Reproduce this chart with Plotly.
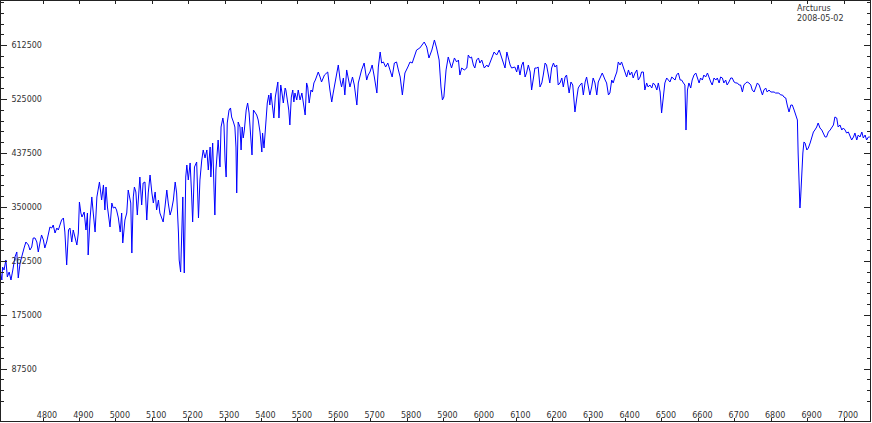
import plotly.graph_objects as go

# Wavelength (Angstrom) and relative flux
wavelength = [
4682,4687,4689,4693,4698,4702,4707,4712,4717,4723,4728,4732,4737,4741,4748,4753,4760,4764,4769,4773,
4778,4783,4787,4792,4796,4801,4805,4810,4815,4819,4824,4828,4833,4838,4842,4847,4851,4856,4860,4865,
4870,4874,4879,4883,4888,4893,4897,4900,4904,4907,4913,4918,4922,4924,4929,4934,4938,4943,4948,4955,
4961,4966,4970,4973,4977,4984,4989,4993,4998,5002,5007,5012,5016,5019,5025,5030,5034,5037,5041,5044,
5048,5051,5055,5059,5063,5066,5071,5075,5080,5085,5089,5094,5099,5103,5108,5112,5117,5121,5126,5130,
5135,5140,5144,5149,5153,5158,5163,5167,5172,5174,5178,5181,5184,5186,5188,5192,5195,5199,5204,5208,
5211,5216,5222,5227,5231,5236,5240,5245,5250,5254,5259,5261,5266,5270,5272,5275,5279,5281,5286,5289,
5294,5297,5300,5303,5306,5311,5315,5318,5323,5327,5330,5332,5336,5341,5344,5347,5350,5353,5358,5362,
5366,5370,5374,5378,5382,5387,5391,5396,5401,5403,5407,5412,5416,5420,5423,5426,5431,5434,5438,5442,
5445,5448,5453,5456,5460,5465,5467,5471,5475,5478,5482,5486,5489,5492,5497,5501,5506,5511,5515,5520,
5524,5527,5531,5536,5540,5544,5548,5552,5556,5561,5565,5573,5582,5588,5593,5597,5604,5611,5616,5620,
5625,5629,5634,5643,5650,5655,5662,5666,5675,5682,5689,5693,5698,5704,5710,5717,5721,5726,5730,5735,
5741,5747,5753,5759,5765,5771,5776,5781,5787,5794,5802,5808,5814,5820,5826,5835,5842,5847,5854,5860,
5868,5875,5881,5888,5893,5897,5901,5907,5913,5918,5922,5930,5936,5941,5945,5950,5957,5964,5968,5973,
5977,5982,5986,5991,5996,6000,6005,6012,6019,6023,6032,6039,6046,6053,6060,6064,6069,6074,6078,6083,
6087,6096,6101,6105,6110,6115,6119,6124,6128,6133,6138,6142,6147,6151,6156,6160,6165,6170,6174,6179,
6183,6188,6192,6197,6202,6206,6211,6215,6220,6225,6229,6234,6238,6245,6250,6255,6261,6266,6270,6275,
6280,6284,6289,6293,6298,6302,6307,6311,6316,6321,6325,6330,6336,6344,6348,6353,6357,6362,6366,6371,
6376,6380,6385,6389,6394,6398,6403,6408,6412,6417,6421,6426,6431,6435,6440,6444,6449,6453,6458,6462,
6467,6472,6476,6481,6486,6490,6495,6499,6504,6508,6513,6517,6522,6527,6531,6536,6540,6545,6550,6554,
6559,6563,6566,6570,6574,6579,6583,6588,6593,6597,6602,6606,6611,6615,6620,6625,6629,6634,6638,6643,
6648,6652,6657,6661,6666,6670,6675,6679,6684,6689,6693,6698,6703,6707,6712,6716,6721,6725,6730,6734,
6739,6744,6748,6753,6757,6762,6767,6771,6776,6780,6785,6789,6794,6799,6803,6808,6812,6817,6821,6826,
6831,6835,6840,6844,6849,6854,6858,6863,6867,6872,6874,6876,6879,6881,6884,6887,6890,6893,6898,6902,
6907,6911,6916,6920,6925,6929,6934,6939,6943,6948,6952,6957,6962,6966,6971,6975,6980,6984,6989,6994,
6998,7003,7007,7012,7016,7021,7026,7030,7035,7039,7044,7049,7053,7058,7062,7067,7071,
]
flux = [
248200,232000,253100,248200,264500,236900,245000,232000,248200,269400,277500,235300,259600,269400,284000,293700,288800,280700,285600,300200,
300200,293700,277500,293700,305100,297000,284000,293700,308300,318100,316400,321300,308300,316400,313200,324600,329400,332700,309900,256400,
313200,316400,293700,313200,300200,288800,308300,358600,340800,334300,342400,313200,340800,272600,329400,366800,340800,309900,366800,391100,
361900,386300,345700,383000,350500,318100,357000,348900,350500,345700,332700,309900,340800,292100,329400,340800,378100,366800,357000,275800,
366800,383000,374900,337500,386300,399200,353800,389500,391100,329400,373300,402500,373300,357000,374900,345700,361900,340800,332700,326200,
350500,378100,357000,337500,345700,361900,391100,373300,308300,264500,245000,292100,366800,292100,243400,399200,418700,394400,422000,373300,
326200,415500,423600,332700,394400,426800,443100,430100,443100,410600,447900,399200,454400,373300,337500,410600,447900,459300,415500,480400,
495000,483700,426800,399200,486900,508000,511300,496700,488500,480400,447900,373300,488500,480400,443100,480400,462600,475500,508000,519400,
503200,470700,435000,508000,504800,499900,491800,472300,439800,470700,446300,491800,519400,532400,516100,535600,512900,495000,529100,545400,
553500,495000,548600,537200,519400,543700,540500,524300,508000,483700,529100,540500,521000,535600,524300,540500,524300,535600,519400,499900,
551900,545400,519400,540500,537200,551900,556700,564800,569700,561600,553500,564800,569700,540500,521000,535600,556700,581100,556700,545400,
560000,532400,573000,545400,561600,548600,516100,551900,573000,584300,556700,564800,569700,581100,561600,535600,577800,602200,584300,586000,
577800,584300,573000,561600,584300,586000,573000,561600,532400,568100,577800,586000,584300,594100,605400,608700,613600,618400,610300,592500,
605400,621700,608700,589200,545400,524300,529100,573000,594100,584300,576200,592500,586000,589200,564800,576200,573000,576200,597300,592500,
594100,581100,576200,589200,592500,584300,589200,576200,581100,577800,592500,602200,597300,605400,592500,584300,576200,602200,592500,581100,
576200,577800,569700,581100,564800,581100,586000,561600,568100,581100,569700,540500,560000,576200,576200,577800,545400,551900,564800,584300,
581100,560000,551900,576200,584300,577800,581100,548600,551900,560000,545400,561600,564800,535600,553500,548600,504800,527500,543700,548600,
551900,532400,553500,561600,543700,532400,545400,560000,551900,532400,553500,561600,568100,556700,551900,532400,535600,556700,551900,561600,
569700,586000,581100,586000,577800,569700,561600,573000,564800,569700,560000,568100,573000,556700,561600,569700,569700,540500,551900,545400,
548600,543700,551900,548600,540500,551900,537200,503200,529100,551900,560000,556700,553500,561600,560000,556700,564800,568100,556700,556700,
551900,548600,475500,540500,551900,543700,556700,564800,568100,560000,551900,560000,556700,564800,561600,568100,560000,553500,548600,560000,
556700,560000,551900,561600,560000,551900,556700,548600,553500,560000,560000,553500,551900,551900,548600,548600,537200,548600,551900,553500,
551900,548600,540500,537200,543700,551900,548600,540500,532400,540500,543700,537200,540500,537200,537200,537200,535600,535600,535600,532400,
532400,529100,527500,516100,504800,516100,516100,508000,499900,491800,438200,394400,348900,366800,410600,438200,456100,454400,443100,446300,
454400,464200,472300,475500,480400,486900,478800,475500,470700,464200,464200,472300,475500,478800,483700,496700,495000,480400,483700,475500,
478800,475500,470700,472300,467400,459300,464200,470700,459300,467400,464200,472300,462600,467400,459300,464200,464200,
]

x_tick_vals = [4700,4800,4900,5000,5100,5200,5300,5400,5500,5600,5700,5800,5900,
               6000,6100,6200,6300,6400,6500,6600,6700,6800,6900,7000]
x_tick_text = ["","4800","4900","5000","5100","5200","5300","5400","5500","5600","5700","5800","5900",
               "6000","6100","6200","6300","6400","6500","6600","6700","6800","6900","7000"]
y_tick_vals = [87500,175000,262500,350000,437500,525000,612500]
y_tick_text = ["87500","175000","262500","350000","437500","525000","612500"]

star_name = "Arcturus"
obs_date = "2008-05-02"

axis_color = "#222222"
font = dict(family="DejaVu Sans", size=8, color="#333333")

fig = go.Figure()
fig.add_trace(go.Scatter(
    x=wavelength, y=flux, mode="lines",
    line=dict(color="#0000ff", width=1),
    hoverinfo="skip", showlegend=False,
))

fig.update_layout(
    width=872, height=423,
    margin=dict(l=1, r=2, t=1, b=2, pad=0),
    paper_bgcolor="white", plot_bgcolor="white",
    font=font,
    showlegend=False,
)

fig.update_xaxes(
    range=[4684.6, 7071.4],
    tickmode="array", tickvals=x_tick_vals, ticktext=x_tick_text,
    ticks="inside", ticklen=3, tickwidth=1, tickcolor=axis_color,
    ticklabelposition="inside", ticklabelshift=4, ticklabelstandoff=-3,
    showline=True, linecolor=axis_color, linewidth=1, mirror="ticks",
    showgrid=False, zeroline=False, tickfont=font,
)
fig.update_yaxes(
    range=[3085, 685000],
    tickmode="array", tickvals=y_tick_vals, ticktext=y_tick_text,
    ticks="inside", ticklen=6, tickwidth=1, tickcolor=axis_color,
    ticklabelposition="inside", ticklabelstandoff=3,
    minor=dict(dtick=17500, tick0=0, ticks="inside", ticklen=3, tickcolor=axis_color, showgrid=False),
    showline=True, linecolor=axis_color, linewidth=1, mirror="ticks",
    showgrid=False, zeroline=False, tickfont=font,
)

fig.add_annotation(
    xref="paper", yref="paper", x=(796 - 1) / 869, y=1.0 - 2 / 420,
    xanchor="left", yanchor="top", align="left",
    text=star_name + "<br>" + obs_date, showarrow=False,
    font=font, borderpad=0,
)

fig.write_html(
    "out.html",
    config={"displayModeBar": False, "staticPlot": True},
    post_script="document.body.style.margin='0px';document.body.style.padding='0px';",
)
